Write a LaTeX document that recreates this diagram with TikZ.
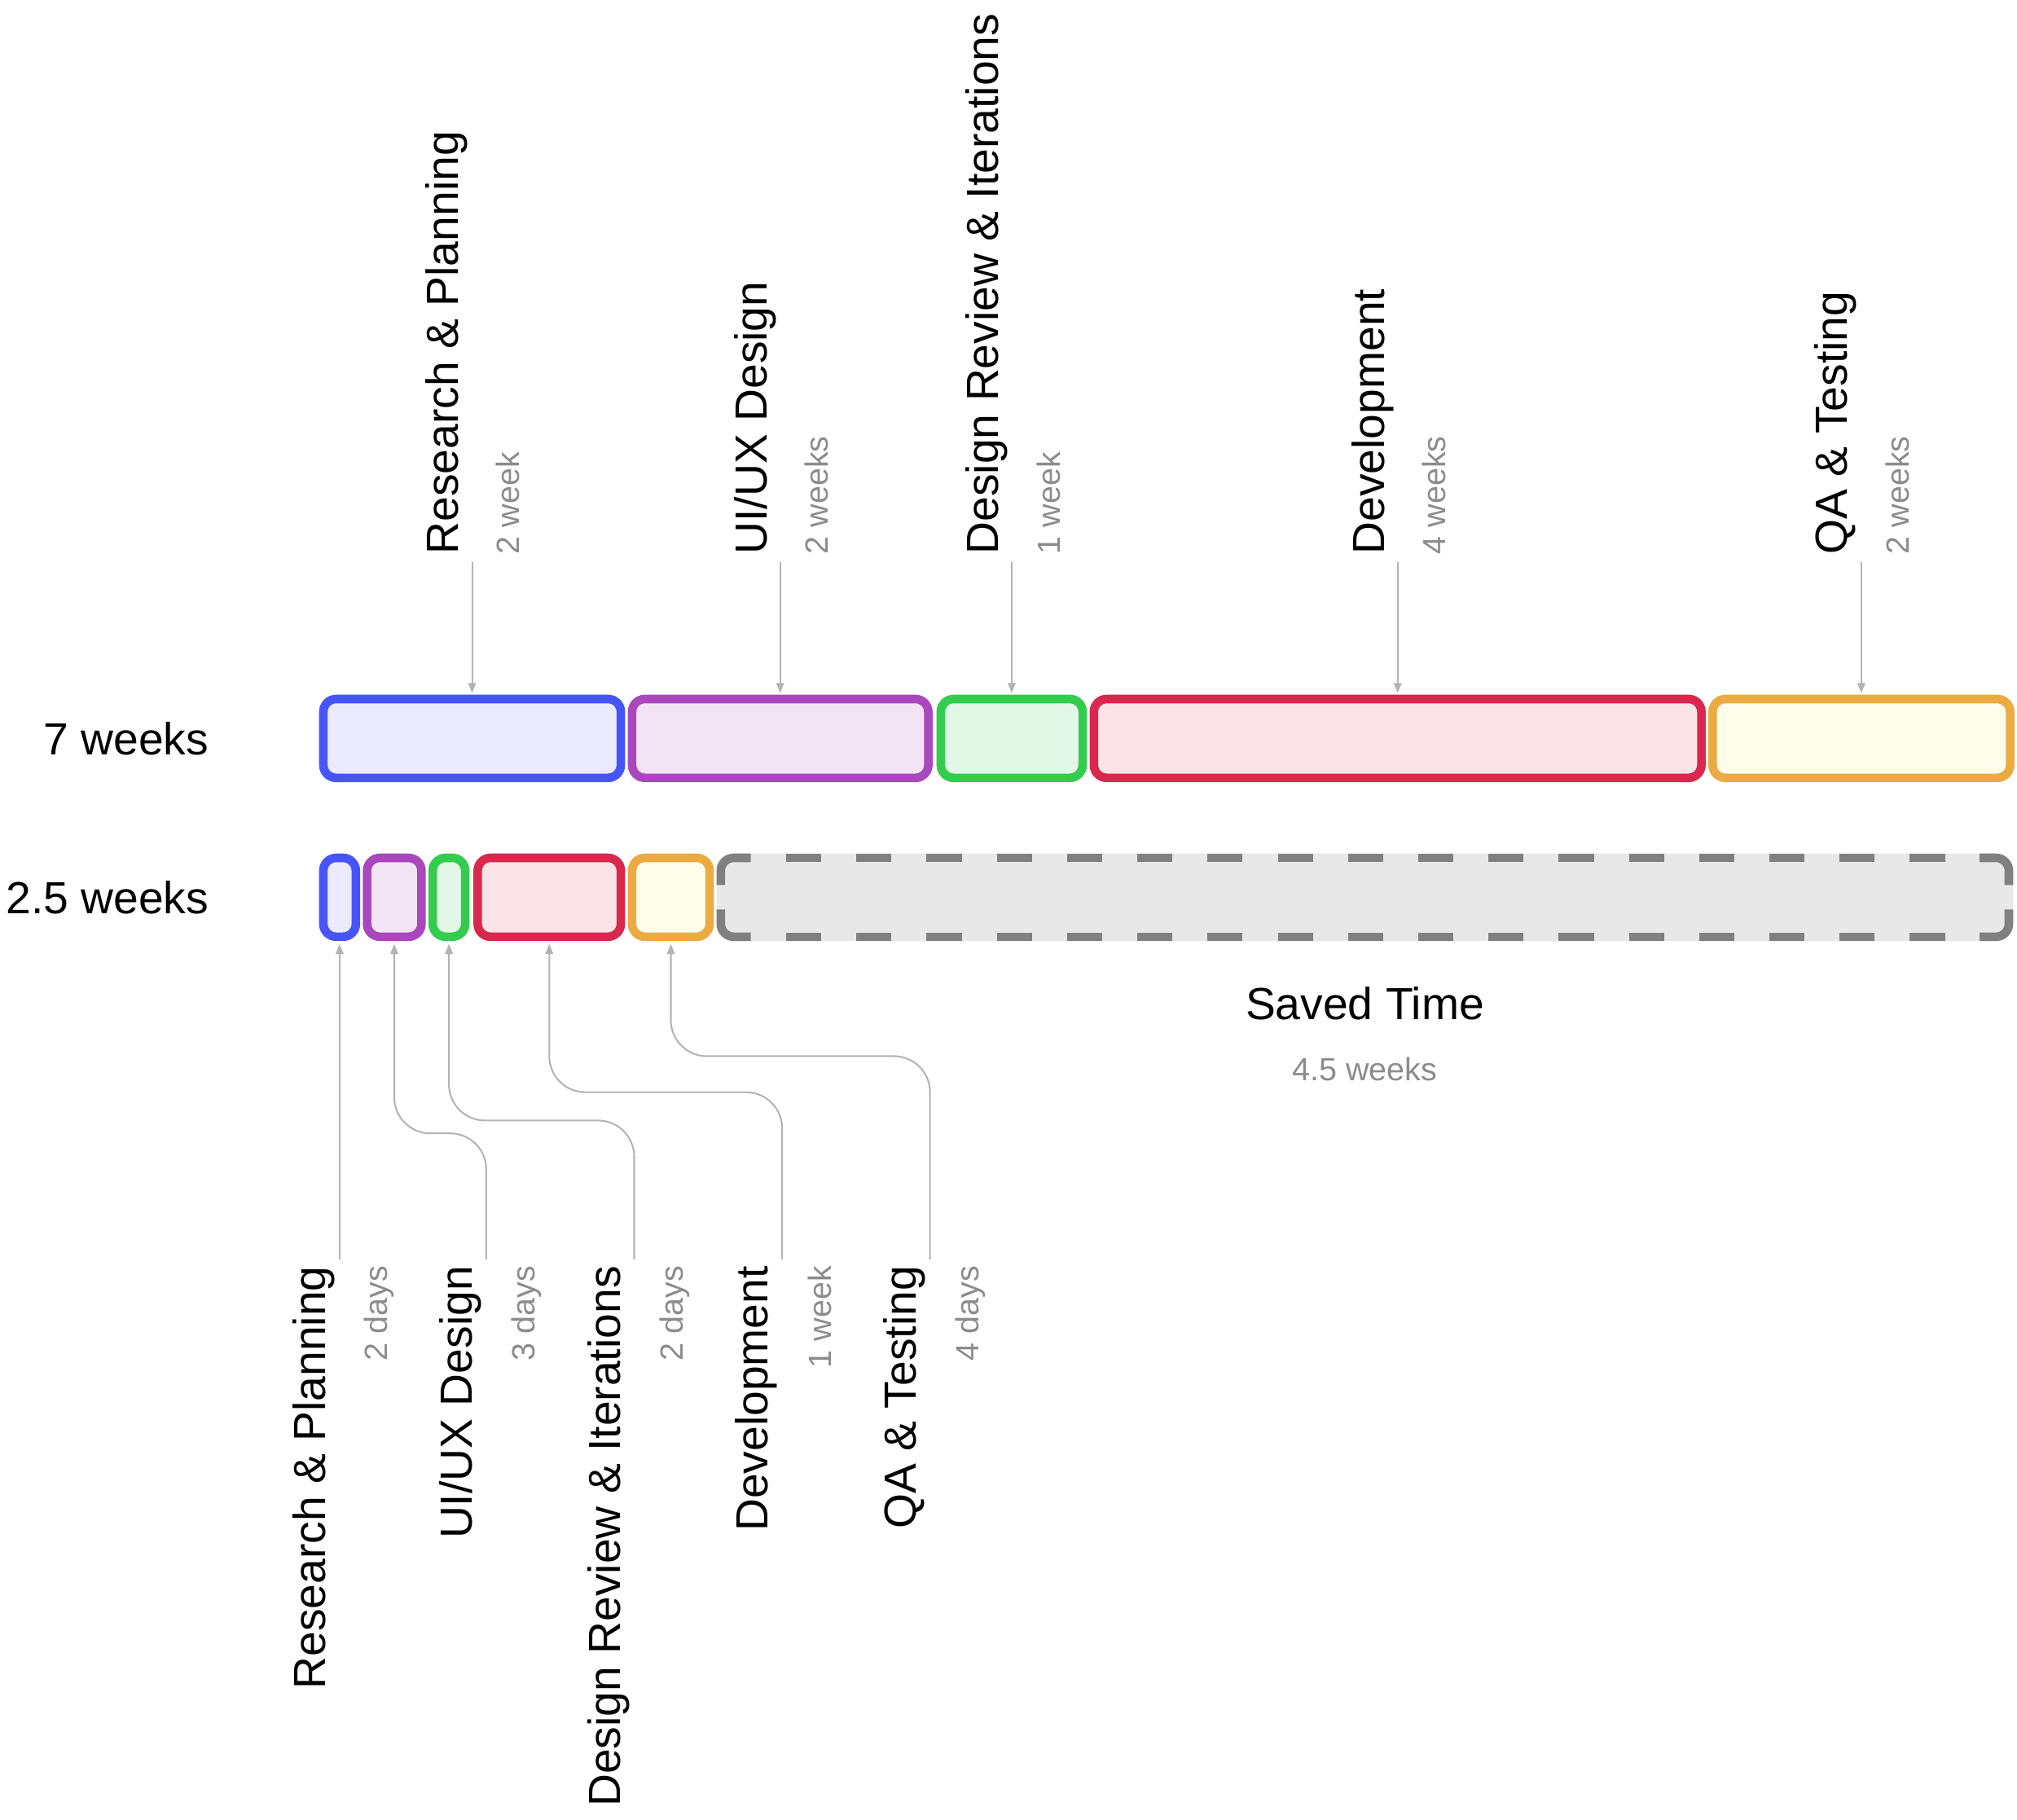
\documentclass[tikz,border=0pt]{standalone}
\usepackage{fontspec}
\setmainfont{Liberation Sans}
\usetikzlibrary{arrows.meta}
\definecolor{bS}{HTML}{4754FA}\definecolor{bF}{HTML}{EAEBFE}
\definecolor{pS}{HTML}{A947BD}\definecolor{pF}{HTML}{F2E4F5}
\definecolor{gS}{HTML}{33CC4E}\definecolor{gF}{HTML}{E3F7E6}
\definecolor{rS}{HTML}{D9274D}\definecolor{rF}{HTML}{FBE3E7}
\definecolor{oS}{HTML}{EBAB42}\definecolor{oF}{HTML}{FEFDEB}
\definecolor{sS}{HTML}{808080}\definecolor{sF}{HTML}{E8E8E8}
\definecolor{lgray}{HTML}{B3B3B3}
\definecolor{tgray}{HTML}{8C8C8C}
\begin{document}
\begin{tikzpicture}[x=1pt,y=-1pt,
  box/.style={draw, line width=6.7pt, rounded corners=10pt, inner sep=0pt, outer sep=0pt, minimum height=61.3pt},
  conn/.style={draw=lgray, line width=1.3pt, -{Triangle[length=8pt,width=6pt]}},
  lbl/.style={font=\fontsize{35}{42}\selectfont, inner sep=0pt, rotate=90},
  sub/.style={font=\fontsize{25}{30}\selectfont, text=tgray, inner sep=0pt, rotate=90},
  big/.style={font=\fontsize{35}{42}\selectfont, inner sep=0pt},
  small/.style={font=\fontsize{25}{30}\selectfont, text=tgray, inner sep=0pt},
  dashline/.style={draw=sS, line width=6.7pt, rounded corners=10pt},
]
\useasboundingbox (0,0) rectangle (1568,1414.7);

% row labels
\node[big, anchor=base east] (r1) at (162.5,587) {7 weeks};
\node[big, anchor=base east] (r2) at (162.5,710.3) {2.5 weeks};

% top row boxes
\node[box, draw=bS, fill=bF, minimum width=231.3pt] (tb1) at (367,574) {};
\node[box, draw=pS, fill=pF, minimum width=230.3pt] (tb2) at (606.5,574) {};
\node[box, draw=gS, fill=gF, minimum width=110.3pt] (tb3) at (786.5,574) {};
\node[box, draw=rS, fill=rF, minimum width=472.3pt] (tb4) at (1086.5,574) {};
\node[box, draw=oS, fill=oF, minimum width=231.3pt] (tb5) at (1447,574) {};

% bottom row boxes
\node[box, draw=bS, fill=bF, minimum width=25.3pt] (bb1) at (264,697.5) {};
\node[box, draw=pS, fill=pF, minimum width=42.3pt] (bb2) at (306.5,697.5) {};
\node[box, draw=gS, fill=gF, minimum width=25.3pt] (bb3) at (349,697.5) {};
\node[box, draw=rS, fill=rF, minimum width=111.3pt] (bb4) at (427,697.5) {};
\node[box, draw=oS, fill=oF, minimum width=60.3pt] (bb5) at (521.5,697.5) {};

% saved time box
\node[fill=sF, rounded corners=13pt, inner sep=0pt, outer sep=0pt, minimum width=1008pt, minimum height=68pt] (saved) at (1061,697.5) {};
\draw[dashline] (560.35,688) -- (560.35,666.85) -- (583.7,666.85);
\draw[dashline] (1538.9,666.85) -- (1561.65,666.85) -- (1561.65,688);
\draw[dashline] (1561.65,707) -- (1561.65,728.15) -- (1538.9,728.15);
\draw[dashline] (583.7,728.15) -- (560.35,728.15) -- (560.35,707);
\draw[dashline, dash pattern=on 27.3pt off 27.3pt] (611.1,666.85) -- (1512,666.85);
\draw[dashline, dash pattern=on 27.3pt off 27.3pt] (611.1,728.15) -- (1512,728.15);
\node[big, anchor=base] (st) at (1061,792.5) {Saved Time};
\node[small, anchor=base] (sw) at (1061,840) {4.5 weeks};

% top labels
\node[lbl, anchor=base west] (tl1) at (356,431) {Research \& Planning};
\node[sub, anchor=base west] (ts1) at (404,431) {2 week};
\node[lbl, anchor=base west] (tl2) at (596,431) {UI/UX Design};
\node[sub, anchor=base west] (ts2) at (644,431) {2 weeks};
\node[lbl, anchor=base west] (tl3) at (776,431) {Design Review \& Iterations};
\node[sub, anchor=base west] (ts3) at (824,431) {1 week};
\node[lbl, anchor=base west] (tl4) at (1076,431) {Development};
\node[sub, anchor=base west] (ts4) at (1124,431) {4 weeks};
\node[lbl, anchor=base west] (tl5) at (1436,431) {QA \& Testing};
\node[sub, anchor=base west] (ts5) at (1484,431) {2 weeks};

% top arrows
\coordinate (ta1) at (367,437);
\coordinate (ta2) at (606.5,437);
\coordinate (ta3) at (786.5,437);
\coordinate (ta4) at (1086.5,437);
\coordinate (ta5) at (1447,437);
\draw[conn] (ta1) -- ([yshift=4.5pt]tb1.north);
\draw[conn] (ta2) -- ([yshift=4.5pt]tb2.north);
\draw[conn] (ta3) -- ([yshift=4.5pt]tb3.north);
\draw[conn] (ta4) -- ([yshift=4.5pt]tb4.north);
\draw[conn] (ta5) -- ([yshift=4.5pt]tb5.north);

% bottom labels
\node[lbl, anchor=base east] (bl1) at (253,984) {Research \& Planning};
\node[sub, anchor=base east] (bs1) at (301,984) {2 days};
\node[lbl, anchor=base east] (bl2) at (367,984) {UI/UX Design};
\node[sub, anchor=base east] (bs2) at (416,984) {3 days};
\node[lbl, anchor=base east] (bl3) at (482,984) {Design Review \& Iterations};
\node[sub, anchor=base east] (bs3) at (531,984) {2 days};
\node[lbl, anchor=base east] (bl4) at (597,984) {Development};
\node[sub, anchor=base east] (bs4) at (646,984) {1 week};
\node[lbl, anchor=base east] (bl5) at (712,984) {QA \& Testing};
\node[sub, anchor=base east] (bs5) at (761,984) {4 days};

% bottom connectors
\coordinate (bc1) at (264,979);
\coordinate (bc2) at (378,979);
\coordinate (bc3) at (493,979);
\coordinate (bc4) at (608,979);
\coordinate (bc5) at (723,979);
\coordinate (j2) at (306.5,881);
\coordinate (j3) at (349,871);
\coordinate (j4) at (427,849);
\coordinate (j5) at (521.5,821);
\draw[conn] (bc1) -- ([yshift=-5.5pt]bb1.south);
\draw[conn, rounded corners=28pt] (bc2) |- (j2) -- ([yshift=-5.5pt]bb2.south);
\draw[conn, rounded corners=28pt] (bc3) |- (j3) -- ([yshift=-5.5pt]bb3.south);
\draw[conn, rounded corners=28pt] (bc4) |- (j4) -- ([yshift=-5.5pt]bb4.south);
\draw[conn, rounded corners=28pt] (bc5) |- (j5) -- ([yshift=-5.5pt]bb5.south);
\end{tikzpicture}
\end{document}
